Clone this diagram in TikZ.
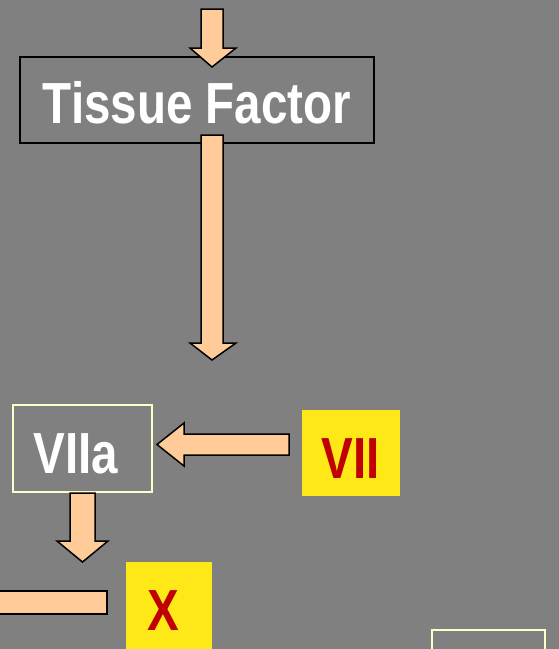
\documentclass[tikz,border=0pt]{standalone}
\usepackage{fontspec}
\newfontfamily\narrowfont{Liberation Sans}[FakeStretch=0.82]
\definecolor{bg}{HTML}{808080}
\definecolor{peach}{HTML}{FFCC99}
\definecolor{hiyellow}{HTML}{FFE817}
\definecolor{darkred}{HTML}{C00000}
\definecolor{paleyellow}{HTML}{FFFFCC}
\tikzset{
  blockarrow/.style={fill=peach, draw=black, line width=1.5pt, line join=miter},
  bigtext/.style={font=\narrowfont\bfseries\fontsize{58}{58}\selectfont, inner sep=0pt, anchor=base},
  darkbox/.style={draw=black, line width=1.5pt, inner sep=0pt},
  palebox/.style={draw=paleyellow, line width=1.5pt, inner sep=0pt},
  yellowbox/.style={fill=hiyellow, draw=none, inner sep=0pt},
}
\begin{document}
\begin{tikzpicture}[x=1pt,y=-1pt]
  \path[fill=bg, use as bounding box] (0,0) rectangle (559,649);
  \clip (0,0) rectangle (559,649);

  % boxes
  \node[darkbox, minimum width=354pt, minimum height=86pt] (tf) at (197,100) {};
  \node[palebox, minimum width=139pt, minimum height=87pt] (viia) at (82.5,448.5) {};
  \node[yellowbox, minimum width=98pt, minimum height=86pt] (vii) at (351,453) {};
  \node[yellowbox, minimum width=86pt, minimum height=120pt] (x) at (169,622) {};
  \node[palebox, minimum width=113pt, minimum height=60pt] (br) at (488.5,660) {};

  % texts
  \node[bigtext, text=white] (tft) at (197,123) {Tissue Factor};
  \node[bigtext, text=white] (viiat) at (76,473) {VIIa};
  \node[bigtext, text=darkred] (viit) at (351,478) {VII};
  \node[bigtext, text=darkred] (xt) at (163,630) {X};

  % block arrows
  \draw[blockarrow] (201,9) -- (223,9) -- (223,48) -- (236,48) -- (212,67)
        -- (190,48) -- (201,48) -- cycle;
  \draw[blockarrow] (201,135) -- (223,135) -- (223,343) -- (236,343) -- (212,360)
        -- (190,343) -- (201,343) -- cycle;
  \draw[blockarrow] (289,434) -- (289,455) -- (184,455) -- (184,466) -- (157,444.5)
        -- (184,423) -- (184,434) -- cycle;
  \draw[blockarrow] (70,493) -- (95,493) -- (95,541) -- (108,541) -- (82.5,562)
        -- (57,541) -- (70,541) -- cycle;
  \draw[blockarrow] (-10,591) rectangle (107,614);
\end{tikzpicture}
\end{document}
